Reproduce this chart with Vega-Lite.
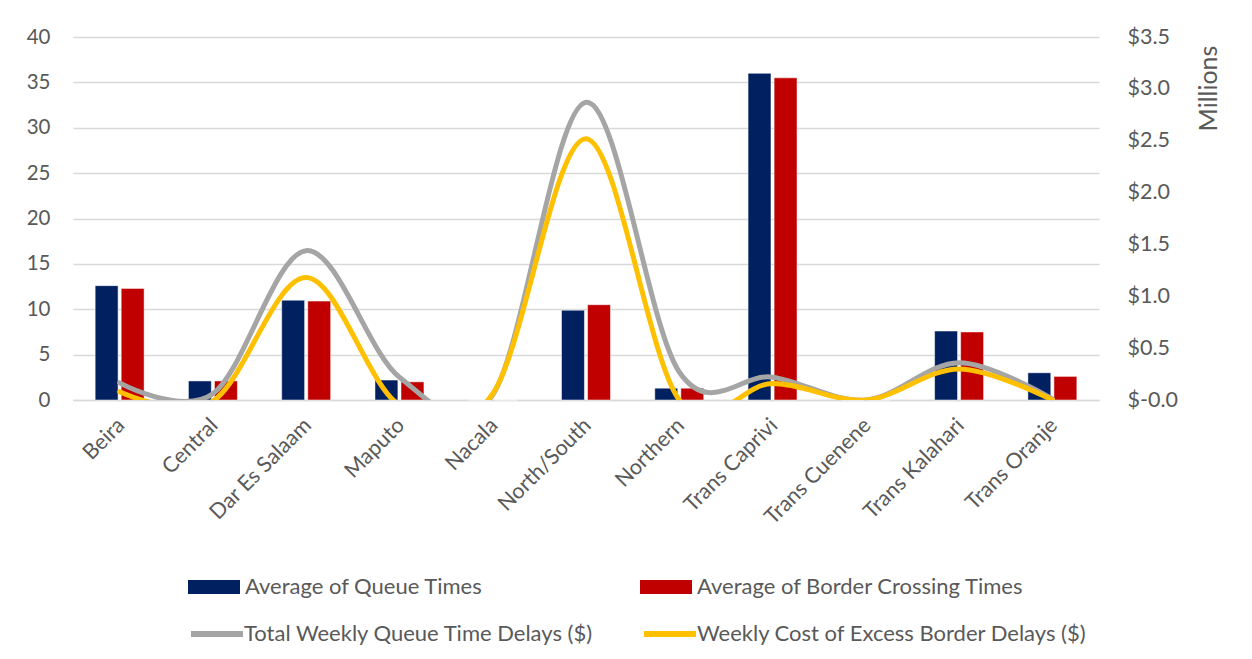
{
  "$schema": "https://vega.github.io/schema/vega-lite/v6.json",
  "autosize": {"type": "none"},
  "padding": {"left": 73, "top": 37, "right": 153, "bottom": 259},
  "width": 1026,
  "height": 363,
  "background": "white",
  "config": {
    "font": "Lato",
    "view": {"stroke": null},
    "axis": {"labelColor": "#595959", "titleColor": "#595959", "labelFont": "Lato", "titleFont": "Lato", "titleFontWeight": "normal"},
    "legend": {"labelColor": "#595959", "labelFont": "Lato"}
  },
  "datasets": {
    "bars": [
      {"region": "Beira", "series": "Average of Queue Times", "value": 12.6},
      {"region": "Beira", "series": "Average of Border Crossing Times", "value": 12.3},
      {"region": "Central", "series": "Average of Queue Times", "value": 2.1},
      {"region": "Central", "series": "Average of Border Crossing Times", "value": 2.1},
      {"region": "Dar Es Salaam", "series": "Average of Queue Times", "value": 11.0},
      {"region": "Dar Es Salaam", "series": "Average of Border Crossing Times", "value": 10.9},
      {"region": "Maputo", "series": "Average of Queue Times", "value": 2.2},
      {"region": "Maputo", "series": "Average of Border Crossing Times", "value": 2.0},
      {"region": "Nacala", "series": "Average of Queue Times", "value": 0},
      {"region": "Nacala", "series": "Average of Border Crossing Times", "value": 0},
      {"region": "North/South", "series": "Average of Queue Times", "value": 9.9},
      {"region": "North/South", "series": "Average of Border Crossing Times", "value": 10.5},
      {"region": "Northern", "series": "Average of Queue Times", "value": 1.3},
      {"region": "Northern", "series": "Average of Border Crossing Times", "value": 1.3},
      {"region": "Trans Caprivi", "series": "Average of Queue Times", "value": 36.0},
      {"region": "Trans Caprivi", "series": "Average of Border Crossing Times", "value": 35.5},
      {"region": "Trans Cuenene", "series": "Average of Queue Times", "value": 0},
      {"region": "Trans Cuenene", "series": "Average of Border Crossing Times", "value": 0},
      {"region": "Trans Kalahari", "series": "Average of Queue Times", "value": 7.6},
      {"region": "Trans Kalahari", "series": "Average of Border Crossing Times", "value": 7.5},
      {"region": "Trans Oranje", "series": "Average of Queue Times", "value": 3.0},
      {"region": "Trans Oranje", "series": "Average of Border Crossing Times", "value": 2.6}
    ],
    "lines": [
      {"region": "Beira", "series": "Total Weekly Queue Time Delays ($)", "value": 165000},
      {"region": "Central", "series": "Total Weekly Queue Time Delays ($)", "value": 60000},
      {"region": "Dar Es Salaam", "series": "Total Weekly Queue Time Delays ($)", "value": 1440000},
      {"region": "Maputo", "series": "Total Weekly Queue Time Delays ($)", "value": 220000},
      {"region": "Nacala", "series": "Total Weekly Queue Time Delays ($)", "value": 50000},
      {"region": "North/South", "series": "Total Weekly Queue Time Delays ($)", "value": 2870000},
      {"region": "Northern", "series": "Total Weekly Queue Time Delays ($)", "value": 270000},
      {"region": "Trans Caprivi", "series": "Total Weekly Queue Time Delays ($)", "value": 220000},
      {"region": "Trans Cuenene", "series": "Total Weekly Queue Time Delays ($)", "value": 0},
      {"region": "Trans Kalahari", "series": "Total Weekly Queue Time Delays ($)", "value": 360000},
      {"region": "Trans Oranje", "series": "Total Weekly Queue Time Delays ($)", "value": 10000},
      {"region": "Beira", "series": "Weekly Cost of Excess Border Delays ($)", "value": 80000},
      {"region": "Central", "series": "Weekly Cost of Excess Border Delays ($)", "value": -10000},
      {"region": "Dar Es Salaam", "series": "Weekly Cost of Excess Border Delays ($)", "value": 1180000},
      {"region": "Maputo", "series": "Weekly Cost of Excess Border Delays ($)", "value": -50000},
      {"region": "Nacala", "series": "Weekly Cost of Excess Border Delays ($)", "value": 60000},
      {"region": "North/South", "series": "Weekly Cost of Excess Border Delays ($)", "value": 2520000},
      {"region": "Northern", "series": "Weekly Cost of Excess Border Delays ($)", "value": 0},
      {"region": "Trans Caprivi", "series": "Weekly Cost of Excess Border Delays ($)", "value": 160000},
      {"region": "Trans Cuenene", "series": "Weekly Cost of Excess Border Delays ($)", "value": 0},
      {"region": "Trans Kalahari", "series": "Weekly Cost of Excess Border Delays ($)", "value": 300000},
      {"region": "Trans Oranje", "series": "Weekly Cost of Excess Border Delays ($)", "value": 0}
    ]
  },
  "encoding": {
    "x": {
      "field": "region",
      "type": "nominal",
      "scale": {
        "domain": ["Beira", "Central", "Dar Es Salaam", "Maputo", "Nacala", "North/South", "Northern", "Trans Caprivi", "Trans Cuenene", "Trans Kalahari", "Trans Oranje"],
        "paddingInner": 0.475,
        "paddingOuter": 0.2375
      },
      "axis": {
        "title": null,
        "labelAngle": -45,
        "labelAlign": "right",
        "labelBaseline": "middle",
        "labelFontSize": 21.5,
        "labelPadding": 22,
        "labelOffset": 2,
        "ticks": false,
        "domain": true,
        "domainColor": "#D9D9D9",
        "domainWidth": 1.5,
        "labelLimit": 300
      }
    }
  },
  "layer": [
    {
      "data": {"name": "bars"},
      "mark": {"type": "bar", "stroke": "white", "strokeWidth": 0.5},
      "encoding": {
        "xOffset": {
          "field": "series",
          "type": "nominal",
          "scale": {"domain": ["Average of Queue Times", "Average of Border Crossing Times"], "paddingInner": 0.12, "paddingOuter": 0}
        },
        "y": {
          "field": "value",
          "type": "quantitative",
          "scale": {"domain": [0, 40], "nice": false},
          "axis": {
            "title": null,
            "values": [0, 5, 10, 15, 20, 25, 30, 35, 40],
            "grid": true,
            "gridColor": "#D9D9D9",
            "gridWidth": 1.5,
            "domain": false,
            "ticks": false,
            "labelFontSize": 20.5,
            "labelPadding": 23
          }
        },
        "fill": {
          "field": "series",
          "type": "nominal",
          "scale": {"domain": ["Average of Queue Times", "Average of Border Crossing Times"], "range": ["#002060", "#C00000"]},
          "legend": {
            "title": null,
            "orient": "none",
            "legendX": 115,
            "legendY": 524,
            "direction": "horizontal",
            "symbolType": "M-1,-0.27H1V0.27H-1Z",
            "symbolSize": 2704,
            "symbolStrokeWidth": 0,
            "labelFontSize": 22,
            "labelOffset": 5,
            "columnPadding": 157,
            "padding": 0,
            "labelLimit": 600
          }
        }
      }
    },
    {
      "data": {"name": "lines"},
      "mark": {"type": "line", "interpolate": "cardinal", "tension": 0, "strokeWidth": 5, "clip": true, "strokeCap": "round"},
      "encoding": {
        "y": {
          "field": "value",
          "type": "quantitative",
          "scale": {"domain": [0, 3500000], "nice": false, "zero": false},
          "axis": {
            "orient": "right",
            "values": [0, 500000, 1000000, 1500000, 2000000, 2500000, 3000000, 3500000],
            "labelExpr": "datum.value == 0 ? '$-0.0' : '$' + format(datum.value / 1000000, '.1f')",
            "grid": false,
            "domain": false,
            "ticks": false,
            "labelFontSize": 21.5,
            "labelPadding": 28,
            "labelAlign": "left",
            "title": "Millions",
            "titleFontSize": 25,
            "titleAngle": 270,
            "titleX": 109,
            "titleY": 51,
            "titleAlign": "center",
            "titleBaseline": "middle"
          }
        },
        "stroke": {
          "field": "series",
          "type": "nominal",
          "scale": {"domain": ["Total Weekly Queue Time Delays ($)", "Weekly Cost of Excess Border Delays ($)"], "range": ["#A5A5A5", "#FFC000"]},
          "legend": {
            "title": null,
            "orient": "none",
            "legendX": 115,
            "legendY": 568,
            "direction": "horizontal",
            "symbolType": "stroke",
            "symbolSize": 2704,
            "symbolStrokeWidth": 6,
            "labelFontSize": 22,
            "labelOffset": -2,
            "columnPadding": 38,
            "padding": 0,
            "labelLimit": 600
          }
        }
      }
    }
  ],
  "resolve": {"scale": {"y": "independent"}}
}
